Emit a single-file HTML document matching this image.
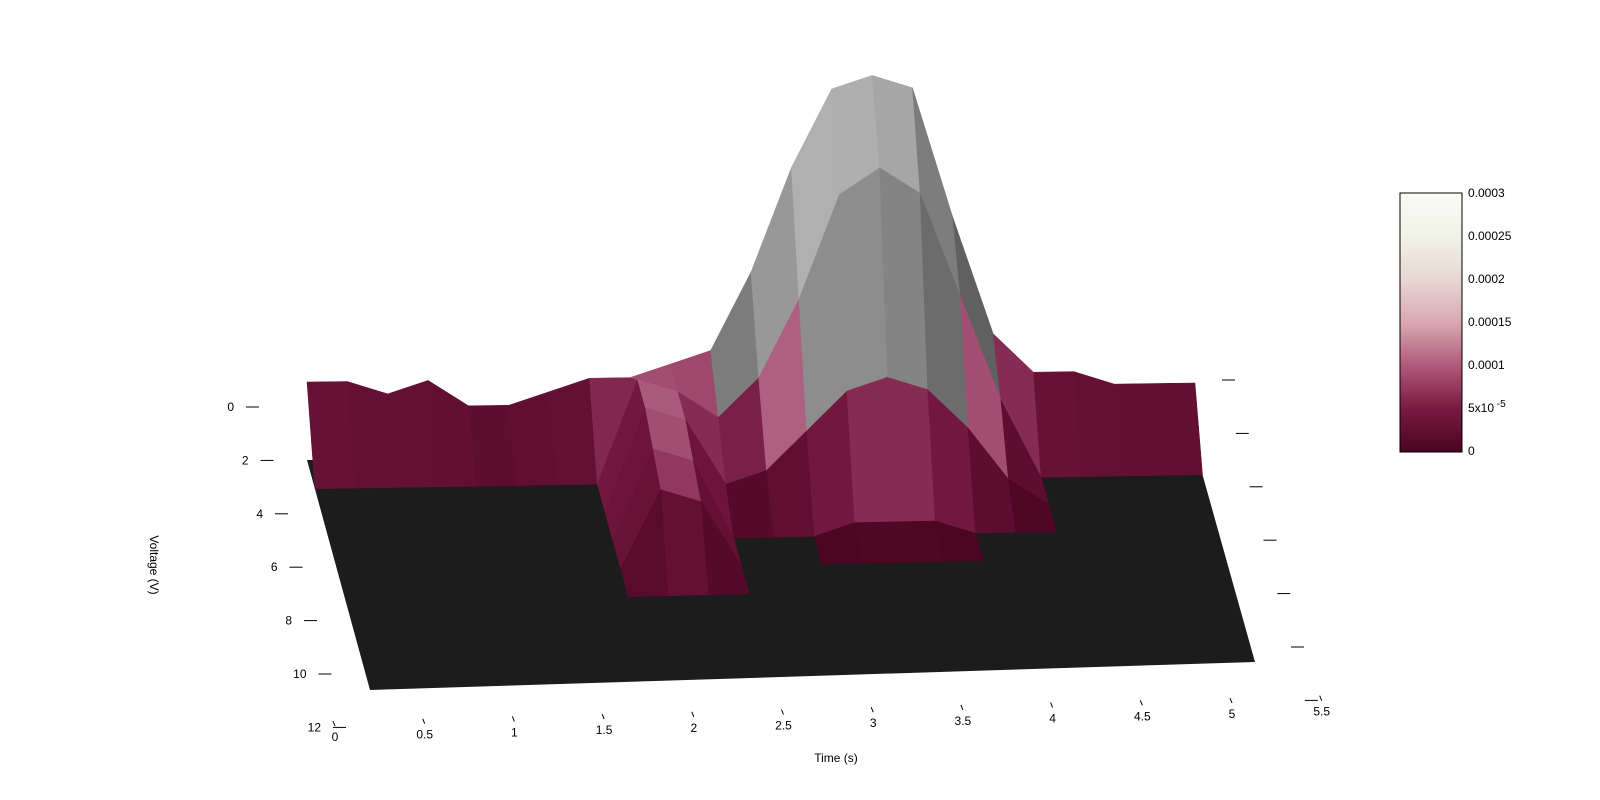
<!DOCTYPE html>
<html><head><meta charset="utf-8"><style>
body{margin:0;background:#fff;}
svg{display:block;font-family:"Liberation Sans",sans-serif;}
</style></head><body>
<svg id="chart" width="1600" height="800" viewBox="0 0 1600 800" xmlns="http://www.w3.org/2000/svg">
<defs>
<linearGradient id="cb" x1="0" y1="1" x2="0" y2="0">
<stop offset="0" stop-color="#4a0520"/><stop offset="0.17" stop-color="#7a1a40"/><stop offset="0.33" stop-color="#b05878"/><stop offset="0.5" stop-color="#d8a8b4"/><stop offset="0.67" stop-color="#e8d8d4"/><stop offset="0.83" stop-color="#f0f2e6"/><stop offset="1" stop-color="#fbfdf6"/>
</linearGradient>
</defs>
<g id="surface"></g>
<g id="axes"></g>
<g>
<rect x="1400" y="193" width="62" height="259" fill="url(#cb)" stroke="#000" stroke-width="1"/>
</g>
<text x="836" y="762" font-size="12" text-anchor="middle">Time (s)</text>
<text x="150" y="565" font-size="12" text-anchor="middle" transform="rotate(90 150 565)">Voltage (V)</text>
</svg>
<script>
const times=[0,0.25,0.5,0.75,1,1.25,1.5,1.75,2,2.25,2.5,2.75,3,3.25,3.5,3.75,4,4.25,4.5,4.75,5,5.25,5.5];
const volts=[0,1,2,3,4,5,6];
// values in units of 1e-5
const row0=[6,6,5,6,4,4,5,6,6,7,8,14,22,28,29,28,18,9,6,6,5,5,5];
const row1=[0,0,0,0,0,0,0,0,8,7,5,8,14,22,24,22,14,6,0,0,0,0,0];
const row2=[0,0,0,0,0,0,0,0,8,7,2,3,6,9,10,9,6,2,0,0,0,0,0];
const row3=[0,0,0,0,0,0,0,0,7,6,0,0,0,1,1,1,0,0,0,0,0,0,0];
const row4=[0,0,0,0,0,0,0,0,6,5,0,0,0,0,0,0,0,0,0,0,0,0,0];
const row5=[0,0,0,0,0,0,0,0,0,0,0,0,0,0,0,0,0,0,0,0,0,0,0];
const row6=[0,0,0,0,0,0,0,0,0,0,0,0,0,0,0,0,0,0,0,0,0,0,0];
const zRows=[row0,row1,row2,row3,row4,row5,row6];
const voltTicks=["0","2","4","6","8","10","12"];
const timeTicks=["0","0.5","1","1.5","2","2.5","3","3.5","4","4.5","5","5.5"];
const cbLabels=["0","5x10","0.0001","0.00015","0.0002","0.00025","0.0003"];

const NS="http://www.w3.org/2000/svg";
function proj(t,v,z){
  const u=t/5.5, w=v/8;
  const xl=307+63*w, xr=1195+60*w;
  const yl=460+230*w, yr=448+214*w;
  const x=xl+(xr-xl)*u, y=yl+(yr-yl)*u - z*13;
  return [x,y];
}
function cmap(z){
  const stops=[[0,[74,5,32]],[3,[110,20,60]],[5,[150,60,100]],[8,[210,150,170]],[12,[232,212,212]],[30,[250,252,244]]];
  for(let i=1;i<stops.length;i++){ if(z<=stops[i][0]){const a=stops[i-1],b=stops[i];const f=(z-a[0])/(b[0]-a[0]);return 'rgb('+a[1].map((c,k)=>Math.round(c+(b[1][k]-c)*f)).join(',')+')';}}
  return 'rgb(250,252,244)';
}
const surf=document.getElementById('surface');
const fl=[proj(0,0,0),proj(5.5,0,0),proj(5.5,8,0),proj(0,8,0)];
const floor=document.createElementNS(NS,'polygon');
floor.setAttribute('points',fl.map(p=>p.join(',')).join(' '));
floor.setAttribute('fill','#1c1c1c');


surf.appendChild(floor);
const faces=[];
for(let j=0;j<volts.length-1;j++){
  for(let i=0;i<times.length-1;i++){
    const z=[zRows[j][i],zRows[j][i+1],zRows[j+1][i+1],zRows[j+1][i]];
    if(Math.max(...z)===0) continue;
    const pts=[proj(times[i],volts[j],z[0]),proj(times[i+1],volts[j],z[1]),proj(times[i+1],volts[j+1],z[2]),proj(times[i],volts[j+1],z[3])];
    const avg=(z[0]+z[1]+z[2]+z[3])/4;
    let fill;
    if(avg>8){const dz=(z[1]+z[2])-(z[0]+z[3]);const s=Math.max(80,Math.min(185,80+avg*3.5+dz*1.5));fill='rgb('+s+','+s+','+s+')';}
    else fill=cmap(avg*0.8);
    faces.push({pts,fill,d:j});
  }
}
faces.sort((a,b)=>a.d-b.d);
faces.forEach(f=>{
  const p=document.createElementNS(NS,'polygon');
  p.setAttribute('points',f.pts.map(q=>q[0].toFixed(1)+','+q[1].toFixed(1)).join(' '));
  p.setAttribute('fill',f.fill);p.setAttribute('stroke',f.fill);p.setAttribute('stroke-width','0.5');
  
  
  surf.appendChild(p);
});
const ax=document.getElementById('axes');
function line(x1,y1,x2,y2,name){const l=document.createElementNS(NS,'line');l.setAttribute('x1',x1);l.setAttribute('y1',y1);l.setAttribute('x2',x2);l.setAttribute('y2',y2);l.setAttribute('stroke','#000');


ax.appendChild(l);}
function text(x,y,s,anchor,name){const t=document.createElementNS(NS,'text');t.setAttribute('x',x);t.setAttribute('y',y);t.setAttribute('font-size','12');t.setAttribute('text-anchor',anchor);t.textContent=s;


ax.appendChild(t);return t;}
voltTicks.forEach((s,i)=>{
  const y=407+i*53.4, x0=246+i*14.5;
  line(x0,y,x0+13,y,'y-tick');
  text(x0-12,y+4,s,'end','y-tick-label');
});
timeTicks.forEach((s,i)=>{
  const x=333+i*89.7, y=737-i*2.3;
  line(x,y-16,x+2,y-11,'x-tick');
  text(x+2,y+4,s,'middle','x-tick-label');
});
for(let i=0;i<7;i++){const y=380+i*53.4,x=1222+i*13.8;line(x,y,x+13,y,'z-tick');}
cbLabels.forEach((s,i)=>{
  const y=451-i*43;
  line(1400,y,1404,y,'colorbar-tick');line(1458,y,1462,y,'colorbar-tick');
  const t=text(1468,y+4,s,'start','colorbar-label');
  if(s==="5x10"){const sup=document.createElementNS(NS,'tspan');sup.setAttribute('dy','-5');sup.setAttribute('font-size','10');sup.textContent=' -5';t.appendChild(sup);}
});
</script>
</body></html>
